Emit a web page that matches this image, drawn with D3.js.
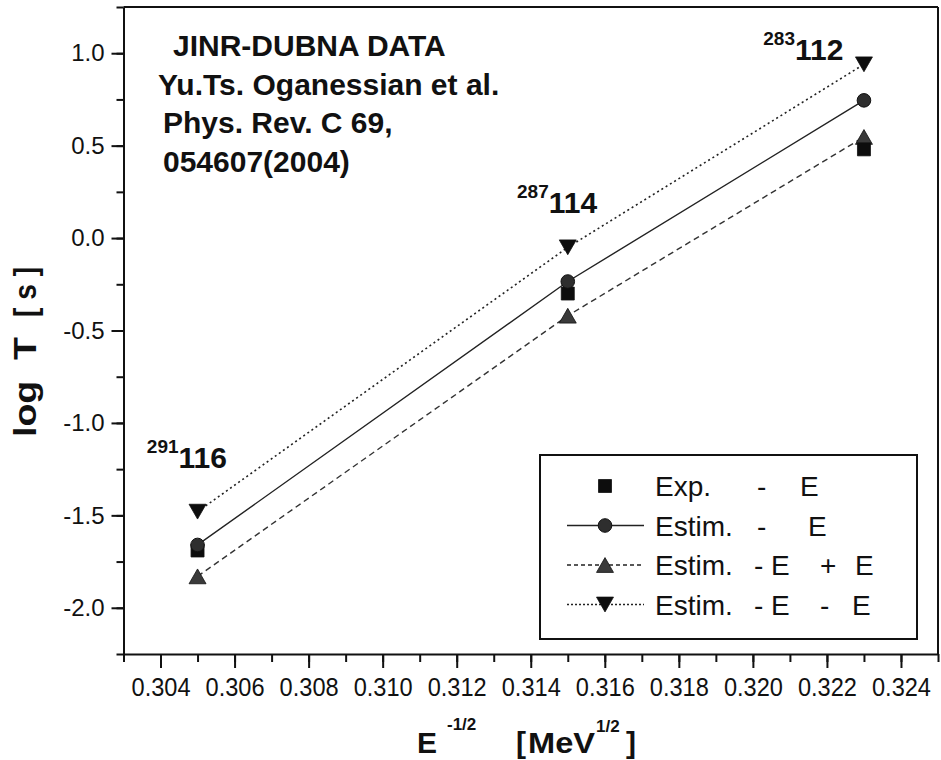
<!DOCTYPE html>
<html><head><meta charset="utf-8">
<script src="https://cdn.jsdelivr.net/npm/d3@7"></script>
<style>body{margin:0;background:#fff} text{font-family:"Liberation Sans",Arial,Helvetica,sans-serif;}</style>
</head><body>
<svg id="chart" width="941" height="760"></svg>
<script>
// ---------- data ----------
const xValues = [0.305, 0.315, 0.323];
const massNumbers = ["291", "287", "283"];
const elements = ["116", "114", "112"];
const expValues = [-1.69, -0.30, 0.48];
const estimValues = [-1.66, -0.235, 0.745];
const estimPlusValues = [-1.83, -0.42, 0.547];
const estimMinusValues = [-1.48, -0.05, 0.94];
// anchors of isotope labels (data units)
const labelX = [0.30363, 0.31363, 0.32028];
const labelY = [-1.243, 0.136, 0.963];
const xTickValues = [0.304, 0.306, 0.308, 0.310, 0.312, 0.314, 0.316, 0.318, 0.320, 0.322, 0.324];
const yTickValues = [-2.0, -1.5, -1.0, -0.5, 0.0, 0.5, 1.0];
const legendParts = [["Exp.", "-", "E"], ["Estim.", "-", "E"], ["Estim.", "- E", "+", "E"], ["Estim.", "- E", "-", "E"]];
const infoLines = ["JINR-DUBNA DATA", "Yu.Ts. Oganessian et al.", "Phys. Rev. C 69,", "054607(2004)"];

// ---------- layout ----------
const svg = d3.select("#chart");
const L = 123.5, R = 938, T = 7, B = 654;
const x = d3.scaleLinear().domain([0.303, 0.325]).range([L, R]);
const y = d3.scaleLinear().domain([-2.25, 1.25]).range([B, T]);

// frame top & right
svg.append("line").attr("x1", L).attr("x2", R).attr("y1", T).attr("y2", T).attr("stroke", "#111").attr("stroke-width", 2);
svg.append("line").attr("x1", R).attr("x2", R).attr("y1", T).attr("y2", B).attr("stroke", "#111").attr("stroke-width", 2);

// minor ticks
const xMinor = d3.range(0, 23).map(i => 0.303 + i * 0.001);
const yMinor = d3.range(0, 15).map(i => -2.25 + i * 0.25);
svg.append("g").attr("transform", `translate(0,${B})`)
  .call(d3.axisBottom(x).tickValues(xMinor).tickSize(8).tickFormat(""))
  .call(g => g.select(".domain").remove())
  .selectAll("line").attr("stroke", "#111").attr("stroke-width", 2);
svg.append("g").attr("transform", `translate(${L},0)`)
  .call(d3.axisLeft(y).tickValues(yMinor).tickSize(7).tickFormat(""))
  .call(g => g.select(".domain").remove())
  .selectAll("line").attr("stroke", "#111").attr("stroke-width", 2);

// major axes
const xAxis = svg.append("g").attr("transform", `translate(0,${B})`)
  .call(d3.axisBottom(x).tickValues(xTickValues).tickSize(14).tickSizeOuter(0).tickPadding(10).tickFormat(d => d.toFixed(3)));
xAxis.select(".domain").attr("stroke", "#111").attr("stroke-width", 2);
xAxis.selectAll("line").attr("stroke", "#111").attr("stroke-width", 2);
xAxis.selectAll("text").attr("font-size", 25).attr("fill", "#111")
  .attr("font-family", "'Liberation Sans',Arial,sans-serif").attr("textLength", 59).attr("lengthAdjust", "spacingAndGlyphs");

const yAxis = svg.append("g").attr("transform", `translate(${L},0)`)
  .call(d3.axisLeft(y).tickValues(yTickValues).tickSize(12).tickSizeOuter(0).tickPadding(7).tickFormat(d => d.toFixed(1)));
yAxis.select(".domain").attr("stroke", "#111").attr("stroke-width", 2);
yAxis.selectAll("line").attr("stroke", "#111").attr("stroke-width", 2);
yAxis.selectAll("text").attr("font-size", 24).attr("fill", "#111")
  .attr("font-family", "'Liberation Sans',Arial,sans-serif");

// axis titles
svg.append("text").attr("transform", `translate(36,387) rotate(-90)`)
  .attr("text-anchor", "middle").attr("font-size", 31).attr("font-weight", "bold").attr("fill", "#111")
  .attr("textLength", 100).attr("lengthAdjust", "spacingAndGlyphs")
  .style("white-space", "pre").text("log  T");
svg.append("text").attr("transform", `translate(36,292) rotate(-90)`)
  .attr("text-anchor", "middle").attr("font-size", 31).attr("font-weight", "bold").attr("fill", "#111")
  .attr("textLength", 50).attr("lengthAdjust", "spacingAndGlyphs")
  .style("white-space", "pre").text("[ s ]");

const xt = svg.append("text").attr("y", 753).attr("font-size", 30).attr("font-weight", "bold").attr("fill", "#111");
xt.append("tspan").attr("x", 417).text("E");
xt.append("tspan").attr("x", 447).attr("dy", -23).attr("font-size", 17).text("-1/2");
xt.append("tspan").attr("x", 516).attr("dy", 23).text("[");
xt.append("tspan").attr("x", 528).attr("textLength", 67).attr("lengthAdjust", "spacingAndGlyphs").text("MeV");
xt.append("tspan").attr("x", 596).attr("dy", -21).attr("font-size", 17).text("1/2");
xt.append("tspan").attr("x", 626).attr("dy", 21).text("]");

// info text
const infoX = [173, 158, 163, 163];
infoLines.forEach((s, i) => {
  svg.append("text").attr("x", infoX[i]).attr("y", 56 + i * 38.5)
    .attr("font-size", 30).attr("font-weight", "bold").attr("fill", "#111").text(s);
});

// isotope labels
xValues.forEach((v, i) => {
  const t = svg.append("text").attr("x", x(labelX[i])).attr("y", y(labelY[i]))
    .attr("font-weight", "bold").attr("fill", "#111");
  t.append("tspan").attr("font-size", 19).attr("dy", -15).text(massNumbers[i]);
  t.append("tspan").attr("font-size", 30).attr("dy", 15).text(elements[i]);
});

// ---------- marks ----------
const pts = vals => xValues.map((v, i) => [x(v), y(vals[i])]);
const line = d3.line();
svg.append("path").attr("d", line(pts(estimValues))).attr("fill", "none").attr("stroke", "#222").attr("stroke-width", 1.4);
svg.append("path").attr("d", line(pts(estimPlusValues))).attr("fill", "none").attr("stroke", "#333").attr("stroke-width", 1.4).attr("stroke-dasharray", "6,4");
svg.append("path").attr("d", line(pts(estimMinusValues))).attr("fill", "none").attr("stroke", "#222").attr("stroke-width", 1.6).attr("stroke-dasharray", "2,3");

const triUp = (s) => { const h = s * 0.87; return `M0,${-h/2}L${s/2},${h/2}L${-s/2},${h/2}Z`; };
const triDown = (s) => { const h = s * 0.87; return `M0,${h/2}L${s/2},${-h/2}L${-s/2},${-h/2}Z`; };
const square = (s) => `M${-s/2},${-s/2}h${s}v${s}h${-s}Z`;

function drawMarkers(vals, kind) {
  const g = svg.append("g");
  pts(vals).forEach(p => {
    if (kind === "circle") {
      g.append("circle").attr("cx", p[0]).attr("cy", p[1]).attr("r", 6.8).attr("fill", "#2e2e2e").attr("stroke", "#111").attr("stroke-width", 1);
    } else {
      const d = kind === "square" ? square(13) : kind === "up" ? triUp(17) : triDown(17);
      const fill = kind === "up" ? "#3a3a3a" : "#0d0d0d";
      g.append("path").attr("transform", `translate(${p[0]},${p[1]})`).attr("d", d).attr("fill", fill).attr("stroke", "#111").attr("stroke-width", 0.8);
    }
  });
}
drawMarkers(estimPlusValues, "up");
drawMarkers(expValues, "square");
drawMarkers(estimValues, "circle");
drawMarkers(estimMinusValues, "down");

// ---------- legend ----------
const lg = svg.append("g");
lg.append("rect").attr("x", 540).attr("y", 455).attr("width", 377).attr("height", 184)
  .attr("fill", "#fff").attr("stroke", "#111").attr("stroke-width", 2);
const kinds = ["square", "circle", "up", "down"];
const dashes = [null, null, "4,3", "2,2"];
const partX = [[655, 757, 800], [655, 757, 808], [655, 754, 820, 855], [655, 754, 820, 852]];
legendParts.forEach((parts, i) => {
  const cy = 486 + i * 39.5;
  if (i > 0) {
    lg.append("line").attr("x1", 567).attr("x2", 644).attr("y1", cy).attr("y2", cy)
      .attr("stroke", "#222").attr("stroke-width", 1.4).attr("stroke-dasharray", dashes[i]);
  }
  const k = kinds[i];
  if (k === "circle") {
    lg.append("circle").attr("cx", 605).attr("cy", cy).attr("r", 6.8).attr("fill", "#2e2e2e").attr("stroke", "#111");
  } else {
    const d = k === "square" ? square(13) : k === "up" ? triUp(17) : triDown(17);
    lg.append("path").attr("transform", `translate(605,${cy})`).attr("d", d)
      .attr("fill", k === "up" ? "#3a3a3a" : "#0d0d0d").attr("stroke", "#111").attr("stroke-width", 0.8);
  }
  const t = lg.append("text").attr("y", cy + 10).attr("font-size", 28).attr("fill", "#111");
  parts.forEach((p, j) => t.append("tspan").attr("x", partX[i][j]).text(p));
});
</script>
</body></html>
